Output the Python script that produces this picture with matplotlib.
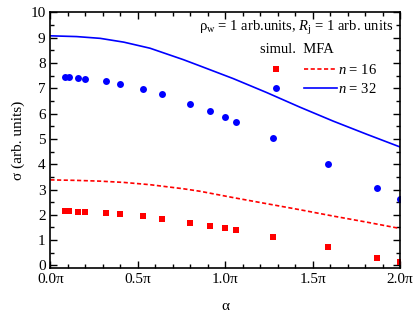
import matplotlib
matplotlib.use('Agg')
import matplotlib.pyplot as plt
import numpy as np
from matplotlib.legend_handler import HandlerTuple
from matplotlib.ticker import MultipleLocator, FuncFormatter

plt.rcParams['font.family'] = ['Liberation Serif', 'DejaVu Serif']
plt.rcParams['mathtext.fontset'] = 'custom'
plt.rcParams['mathtext.rm'] = 'Liberation Serif'
plt.rcParams['mathtext.it'] = 'Liberation Serif:italic'

# simulation points (alpha in units of pi)
alpha_sim = [0.082, 0.106, 0.16, 0.20, 0.318, 0.398, 0.531, 0.637, 0.797, 0.913,
             0.999, 1.06, 1.272, 1.59, 1.87, 2.0]
sim_16 = [2.14, 2.14, 2.12, 2.11, 2.07, 2.03, 1.94, 1.85, 1.69, 1.57,
          1.47, 1.39, 1.13, 0.71, 0.31, 0.12]
sim_32 = [7.43, 7.43, 7.39, 7.38, 7.27, 7.18, 6.96, 6.76, 6.38, 6.11,
          5.85, 5.66, 5.03, 4.00, 3.07, 2.64]

# MFA curves (alpha in units of pi)
alpha_mfa = [0.0, 0.15, 0.285, 0.42, 0.57, 0.76, 0.856, 1.046, 1.237, 1.428, 1.618, 1.81, 2.0]
mfa_16 = [3.38, 3.36, 3.33, 3.28, 3.19, 3.03, 2.93, 2.68, 2.44, 2.20, 1.95, 1.71, 1.46]
mfa_32 = [9.07, 9.04, 8.97, 8.82, 8.58, 8.13, 7.88, 7.38, 6.83, 6.25, 5.70, 5.18, 4.68]

fig = plt.figure(figsize=(4.15, 3.23), dpi=100)
ax = fig.add_axes([0.1214, 0.1703, 0.8426, 0.7917])

sq, = ax.plot(alpha_sim, sim_16, 's', color='#ff0000', ms=4.3, mew=0)
ci, = ax.plot(alpha_sim, sim_32, 'o', color='#0000ff', ms=5, mew=0)
l16, = ax.plot(alpha_mfa, mfa_16, '--', color='#ff0000', lw=1.2, dashes=(2.5, 1.5))
l32, = ax.plot(alpha_mfa, mfa_32, '-', color='#0000ff', lw=1.2)

ax.set_xlim(0, 2.0)
ax.set_ylim(-0.1, 10)
ax.xaxis.set_major_locator(MultipleLocator(0.5))
ax.xaxis.set_minor_locator(MultipleLocator(0.1))
ax.xaxis.set_major_formatter(FuncFormatter(lambda v, p: '%.1fπ' % v))
ax.yaxis.set_major_locator(MultipleLocator(1))
ax.yaxis.set_minor_locator(MultipleLocator(0.5))
ax.tick_params(which='both', direction='in', top=True, right=True, labelsize=11)
ax.tick_params(which='major', length=5, width=1)
ax.tick_params(which='minor', length=3, width=1)
for s in ax.spines.values():
    s.set_linewidth(1.2)

ax.set_xlabel('α', fontsize=11, labelpad=10)
ax.set_ylabel('σ (arb. units)', fontsize=11, labelpad=4)

ax.text(0.98, 0.975, r'ρ$_{\rm w}$ = 1 arb.units, $R_{\rm j}$ = 1 arb. units',
        transform=ax.transAxes, ha='right', va='top', fontsize=10.5)

leg = ax.legend([(sq, l16), (ci, l32)], ['$n$ = 16', '$n$ = 32'],
                handler_map={tuple: HandlerTuple(ndivide=None, pad=0.8)},
                title='simul.  MFA', loc='upper right', bbox_to_anchor=(0.935, 0.88),
                frameon=False, fontsize=10.5, title_fontsize=10.5,
                handlelength=5.3, handletextpad=0.1, labelspacing=0.35,
                borderaxespad=0, borderpad=0)
leg._legend_box.sep = 5
leg.set_alignment('left')

fig.savefig('out.png', dpi=100)
